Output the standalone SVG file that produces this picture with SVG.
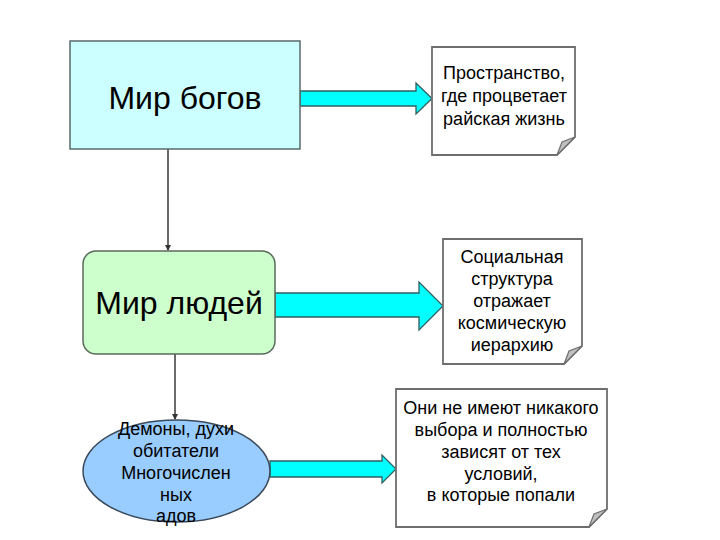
<svg xmlns="http://www.w3.org/2000/svg" width="720" height="540" viewBox="0 0 720 540">
<style>
.t{font-family:"Liberation Sans",Arial,sans-serif;fill:#000;text-anchor:middle}
.big{font-size:32px}
.sm{font-size:18px}
.note{fill:#fff;stroke:#6e6e6e;stroke-width:1.8}
.fold{fill:#c0c0c0;stroke:#6e6e6e;stroke-width:1.2}
.arr{fill:#00ffff;stroke:#2f5f5f;stroke-width:1.3}
.con{stroke:#6a6a6a;stroke-width:2;fill:none}
</style>
<defs>
<marker id="ah" markerWidth="6" markerHeight="6" refX="5" refY="3" orient="auto" markerUnits="userSpaceOnUse">
<path d="M0,0 L6,3 L0,6 Z" fill="#333"/>
</marker>
</defs>
<rect width="720" height="540" fill="#fff"/>
<g id="connectors">
<line class="con" x1="168" y1="149" x2="168" y2="250" marker-end="url(#ah)"/>
<line class="con" x1="175" y1="354" x2="175" y2="419" marker-end="url(#ah)"/>
<path class="arr" d="M300,91 L416,91 L416,83 L432,98.5 L416,114 L416,106 L300,106 Z"/>
<path class="arr" d="M275,293 L419,293 L419,282 L443,306 L419,330 L419,317 L275,317 Z"/>
<path class="arr" d="M270,461 L382,461 L382,455 L396,469 L382,483 L382,477 L270,477 Z"/>
</g>
<g id="world-gods">
<rect x="70" y="41" width="230" height="108" fill="#ccffff" stroke="#5a6a6a" stroke-width="1.5"/>
<text class="t big" x="185" y="109">Мир богов</text>
</g>
<g id="world-people">
<rect x="83" y="251" width="192" height="103" rx="13" fill="#ccffcc" stroke="#5a6a5a" stroke-width="1.5"/>
<text class="t big" x="179" y="314">Мир людей</text>
</g>
<g id="demons">
<ellipse cx="176.5" cy="471" rx="93.5" ry="51" fill="#99ccff" stroke="#3a4a5a" stroke-width="1.5"/>
<text class="t sm"><tspan x="176" y="435">Демоны, духи</tspan><tspan x="176" y="457">обитатели</tspan><tspan x="176" y="479">Многочислен</tspan><tspan x="176" y="501">ных</tspan><tspan x="176" y="522">адов</tspan></text>
</g>
<g id="note-paradise">
<path class="note" d="M432,47 L575,47 L575,137 L557,155 L432,155 Z"/>
<path class="fold" d="M557,155 L575,137 L562,142 Z"/>
<text class="t sm"><tspan x="504" y="79">Пространство,</tspan><tspan x="504" y="102">где процветает</tspan><tspan x="504" y="125">райская жизнь</tspan></text>
</g>
<g id="note-social">
<path class="note" d="M443,239 L582,239 L582,346 L564,364 L443,364 Z"/>
<path class="fold" d="M564,364 L582,346 L569,351 Z"/>
<text class="t sm"><tspan x="512" y="263">Социальная</tspan><tspan x="512" y="285">структура</tspan><tspan x="512" y="307">отражает</tspan><tspan x="512" y="329">космическую</tspan><tspan x="512" y="351">иерархию</tspan></text>
</g>
<g id="note-choice">
<path class="note" d="M396,389 L607,389 L607,509 L589,527 L396,527 Z"/>
<path class="fold" d="M589,527 L607,509 L594,514 Z"/>
<text class="t sm"><tspan x="501" y="414">Они не имеют никакого</tspan><tspan x="501" y="436">выбора и полностью</tspan><tspan x="501" y="458">зависят от тех</tspan><tspan x="501" y="480">условий,</tspan><tspan x="501" y="501">в которые попали</tspan></text>
</g>
</svg>
